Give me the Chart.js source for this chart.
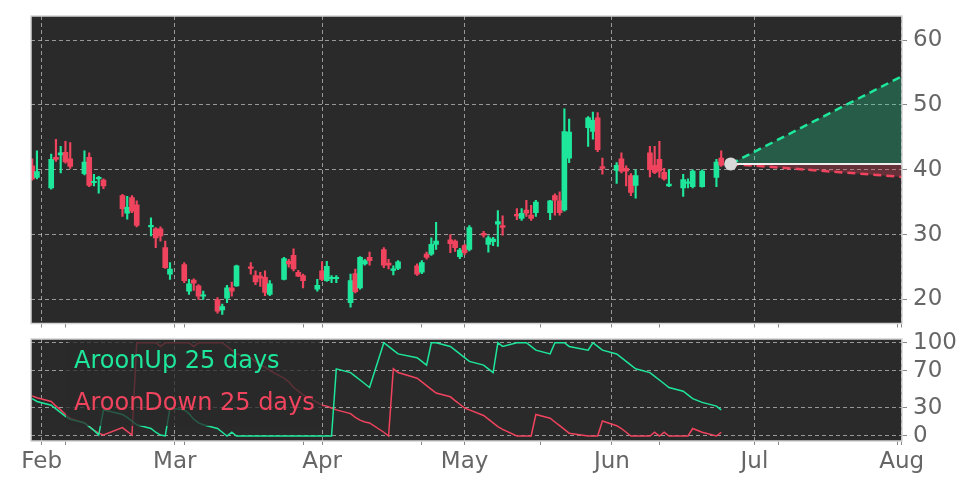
<!DOCTYPE html>
<html>
<head>
<meta charset="utf-8">
<script src="https://cdn.jsdelivr.net/npm/chart.js@4"></script>
<style>
  html, body { margin: 0; padding: 0; background: #fff; }
  #wrap { position: relative; width: 972px; height: 486px; }
  canvas { position: absolute; left: 0; }
  #priceChart { top: 0; }
  #aroonChart { top: 330px; }
</style>
</head>
<body>
<div id="wrap">
  <canvas id="priceChart" width="972" height="330"></canvas>
  <canvas id="aroonChart" width="972" height="156"></canvas>
</div>
<script>
// day positions on the axis (0 = 1 Feb), one per candle
const days = [-2, -1,
  2, 3, 4, 5, 6, 9, 10, 11, 12, 13, 17, 18, 19, 20, 23, 24, 25, 26, 27,
  30, 31, 32, 33, 34, 37, 38, 39, 40, 41, 44, 45, 46, 47, 48, 51, 52, 53, 54, 55,
  58, 59, 60, 61, 62, 65, 66, 67, 68, 69, 72, 73, 74, 75, 79, 80, 81, 82, 83,
  86, 87, 88, 89, 90, 93, 94, 95, 96, 97, 100, 101, 102, 103, 104, 107, 108, 109, 110, 111,
  115, 116, 117, 118, 121, 122, 123, 124, 125, 128, 129, 130, 131, 132, 135, 136, 137, 139, 142, 143];

const opens = [40.6, 38.8,
  37.2, 41.9, 42.3, 42.7, 41.7, 39.4, 41.9, 38.0, 38.6, 38.4, 36.0, 33.3, 35.7, 34.6, 31.2, 30.9, 30.9, 28.0, 23.9,
  25.4, 21.3, 23.0, 22.1, 20.5, 20.0, 18.4, 20.2, 21.8, 22.1, 25.0, 23.7, 23.6, 23.4, 20.8, 23.1, 25.9, 26.8, 24.2, 23.7,
  21.6, 24.4, 22.9, 23.2, 23.2, 19.5, 24.0, 21.8, 25.5, 26.5, 27.7, 25.6, 24.5, 24.8, 25.2, 24.2, 27.0, 27.0, 28.5,
  29.2, 29.0, 26.6, 28.3, 27.7, 30.2, 28.5, 28.9, 31.6, 31.4, 33.1, 32.5, 33.8, 33.0, 33.4, 33.4, 36.0, 35.2, 33.8, 41.8,
  46.5, 45.9, 48.0, 40.5, 39.9, 41.7, 40.2, 39.1, 37.6, 42.6, 40.7, 41.6, 39.6, 37.5, 37.2, 37.9, 37.4, 37.4, 38.8, 41.8];

const highs = [41.7, 42.9,
  42.4, 44.7, 43.6, 44.4, 44.2, 42.9, 42.6, 39.3, 39.0, 38.6, 36.2, 35.9, 36.0, 35.2, 32.6, 31.1, 31.2, 29.0, 25.7,
  25.7, 23.1, 23.2, 22.3, 21.3, 20.3, 19.3, 22.2, 22.7, 25.3, 25.7, 24.4, 24.2, 24.4, 22.9, 26.5, 26.2, 27.8, 24.5, 23.9,
  23.1, 25.8, 25.9, 23.7, 23.7, 23.9, 24.7, 26.6, 26.2, 27.3, 28.0, 26.2, 25.2, 26.0, 25.5, 26.0, 27.3, 29.5, 31.9,
  30.0, 29.2, 27.9, 28.5, 31.4, 30.5, 29.8, 29.6, 33.7, 32.9, 34.0, 34.0, 35.3, 34.5, 35.3, 35.3, 36.3, 36.6, 49.4, 47.8,
  48.2, 48.9, 48.8, 41.8, 41.1, 42.6, 40.6, 39.4, 40.0, 43.6, 43.6, 44.4, 40.2, 40.0, 39.3, 38.6, 40.0, 40.0, 41.6, 42.9];

const lows = [38.4, 38.6,
  37.0, 41.3, 39.5, 41.0, 40.2, 39.2, 37.4, 37.5, 36.4, 37.1, 32.8, 32.4, 33.4, 31.2, 29.8, 28.0, 29.0, 24.8, 23.1,
  22.6, 20.8, 21.4, 20.0, 20.0, 17.9, 17.7, 19.5, 20.5, 22.0, 23.9, 22.3, 22.0, 20.6, 20.6, 23.0, 25.0, 24.4, 23.5, 21.8,
  21.3, 22.9, 22.8, 22.6, 22.6, 18.8, 21.0, 21.6, 25.3, 25.3, 24.9, 24.7, 23.8, 24.6, 23.7, 24.0, 26.2, 26.8, 27.7,
  27.2, 27.4, 26.3, 26.9, 27.5, 29.6, 27.3, 28.3, 28.2, 29.9, 32.3, 32.2, 32.8, 32.2, 32.8, 32.3, 33.0, 33.0, 33.6, 41.1,
  43.6, 44.7, 42.8, 39.3, 37.9, 39.5, 37.5, 36.0, 35.6, 38.9, 39.4, 38.8, 38.4, 37.4, 35.9, 37.2, 37.2, 37.3, 37.4, 40.5];

const closes = [38.6, 39.7,
  41.6, 41.6, 42.6, 41.2, 40.5, 41.2, 37.6, 38.1, 38.8, 37.5, 34.0, 34.2, 33.6, 31.4, 31.4, 29.5, 29.8, 24.9, 24.7,
  22.9, 22.4, 22.5, 20.5, 20.7, 18.2, 18.9, 21.8, 21.3, 25.2, 24.8, 22.7, 23.3, 21.1, 22.4, 26.3, 25.5, 24.7, 23.6, 22.9,
  22.2, 23.1, 25.1, 23.4, 23.4, 22.9, 21.2, 26.5, 26.0, 26.0, 25.3, 25.3, 24.7, 25.8, 23.9, 25.7, 26.5, 28.5, 29.0,
  28.6, 28.0, 27.6, 27.2, 31.1, 29.9, 29.5, 29.3, 32.0, 31.1, 32.9, 33.3, 33.3, 32.5, 35.0, 35.2, 35.3, 33.4, 45.9, 45.8,
  48.0, 47.6, 43.1, 40.2, 40.7, 39.8, 39.8, 36.5, 39.1, 40.0, 39.6, 39.8, 38.6, 37.8, 38.5, 38.1, 39.8, 39.8, 41.2, 40.7];

const aroonUp = [40, 37,
  33, 29, 25, 21, 18, 14, 10, 6, 1, 28, 23, 20, 16, 12, 8, 4, 1, 0, 30,
  28, 24, 18, 14, 12, 8, 4, 0, 4, 0, 0, 0, 0, 0, 0, 0, 0, 0, 0, 0,
  0, 0, 0, 0, 72, 68, 64, 60, 56, 52, 100, 96, 92, 88, 84, 80, 76, 100, 100,
  96, 92, 88, 84, 80, 76, 72, 68, 100, 96, 100, 100, 100, 96, 92, 88, 100, 100, 100, 96,
  92, 100, 96, 92, 88, 84, 80, 76, 72, 68, 64, 60, 56, 52, 48, 44, 40, 36, 32, 28];

const aroonDown = [43, 41,
  37, 32, 28, 23, 19, 14, 10, 6, 3, 1, 9, 5, 1, 100, 100, 100, 96, 100, 100,
  100, 100, 96, 100, 100, 100, 100, 96, 92, 88, 84, 80, 76, 74, 70, 62, 58, 52, 48, 44,
  36, 33, 32, 30, 28, 24, 20, 17, 15, 14, 4, 0, 72, 68, 62, 58, 54, 50, 46,
  42, 38, 34, 30, 28, 22, 18, 14, 10, 7, 0, 0, 0, 0, 23, 19, 15, 11, 7, 3,
  0, 0, 0, 16, 11, 8, 4, 0, 0, 0, 4, 0, 4, 0, 0, 0, 8, 4, 0, 4];

// projection drawn from the last close to the right edge
const projDays = [145, 181];
const projMid = [40.9, 40.9];
const projHigh = [40.9, 54.4];
const projLow = [40.9, 38.9];

const monthTicks = [0, 28, 59, 89, 120, 150, 181];
const monthLabels = ['Feb', 'Mar', 'Apr', 'May', 'Jun', 'Jul', 'Aug'];
const minorTicks = [5, 30, 55, 80, 105, 130, 155, 180];
const priceTicks = [20, 30, 40, 50, 60];
const aroonTicks = [0, 30, 70, 100];
const legendLabels = ['AroonUp 25 days', 'AroonDown 25 days'];

const FONT = 'DejaVu Sans';
const BG = '#2a2a2a';
const UP = '#1ee69b';
const DOWN = '#f0435d';
const GRID = 'rgba(200,200,200,0.7)';
const TEXT = '#666';
const TICK = '#888';
const X_MIN = -2.25, X_MAX = 181.05;

const panelFrame = {
  id: 'panelFrame',
  beforeDraw(chart) {
    const { ctx, chartArea: a } = chart;
    ctx.save();
    ctx.fillStyle = BG;
    ctx.fillRect(a.left, a.top, a.right - a.left, a.bottom - a.top);
    ctx.restore();
  },
  afterDraw(chart) {
    const { ctx, chartArea: a } = chart;
    ctx.save();
    ctx.strokeStyle = '#d4d4d4';
    ctx.lineWidth = 1.5;
    ctx.strokeRect(a.left, a.top, a.right - a.left, a.bottom - a.top);
    ctx.restore();
  }
};

const aroonLegend = {
  id: 'aroonLegend',
  afterDatasetsDraw(chart) {
    const { ctx, chartArea: a } = chart;
    ctx.save();
    ctx.fillStyle = 'rgba(42,42,42,0.75)';
    ctx.beginPath();
    if (ctx.roundRect) ctx.roundRect(a.left + 35, a.top + 3, 256, 84, 4);
    else ctx.rect(a.left + 35, a.top + 3, 256, 84);
    ctx.fill();
    ctx.font = '24px "DejaVu Sans"';
    ctx.textBaseline = 'alphabetic';
    ctx.fillStyle = UP;
    ctx.fillText(legendLabels[0], a.left + 43, a.top + 28.5);
    ctx.fillStyle = DOWN;
    ctx.fillText(legendLabels[1], a.left + 43, a.top + 70.5);
    ctx.restore();
  }
};

function xScale(showLabels) {
  return {
    type: 'linear',
    min: X_MIN,
    max: X_MAX,
    offset: false,
    afterBuildTicks: s => { s.ticks = monthTicks.concat(minorTicks).map(v => ({ value: v })); },
    afterFit: s => {
      s.height = showLabels ? 45 : 6;
      s.paddingLeft = 0;
      s.paddingRight = 0;
    },
    grid: {
      offset: false,
      color: c => (c.tick && monthTicks.includes(c.tick.value)) ? GRID : 'rgba(0,0,0,0)',
      tickColor: TICK,
      tickLength: 4,
      lineWidth: 1
    },
    border: { display: false, dash: [4, 3] },
    ticks: {
      autoSkip: false,
      maxRotation: 0,
      padding: 3,
      color: TEXT,
      font: { family: FONT, size: 23 },
      callback: v => (showLabels && monthTicks.includes(v)) ? monthLabels[monthTicks.indexOf(v)] : ''
    }
  };
}

function yScale(min, max, tickList) {
  return {
    position: 'right',
    min: min,
    max: max,
    afterBuildTicks: s => { s.ticks = tickList.map(v => ({ value: v })); },
    afterFit: s => {
      s.width = 70;
      s.paddingTop = 0;
      s.paddingBottom = 0;
    },
    grid: { color: GRID, tickColor: TICK, tickLength: 5 },
    border: { display: false, dash: [4, 3] },
    ticks: { autoSkip: false, color: TEXT, font: { family: FONT, size: 23 }, padding: 6 }
  };
}

const candleColor = days.map((d, i) => closes[i] >= opens[i] ? UP : DOWN);

new Chart(document.getElementById('priceChart'), {
  type: 'bar',
  data: {
    datasets: [
      {
        label: 'wick',
        data: days.map((d, i) => ({ x: d, y: [lows[i], highs[i]] })),
        backgroundColor: candleColor,
        barThickness: 1.5,
        grouped: false,
        order: 4
      },
      {
        label: 'body',
        data: days.map((d, i) => ({ x: d, y: [opens[i], closes[i]] })),
        backgroundColor: candleColor,
        barThickness: 5,
        minBarLength: 1.5,
        grouped: false,
        order: 3
      },
      {
        type: 'line',
        label: 'last',
        data: projDays.map((d, i) => ({ x: d, y: projMid[i] })),
        borderColor: '#eeeeee',
        borderWidth: 2,
        pointRadius: 0,
        fill: false,
        order: 1
      },
      {
        type: 'line',
        label: 'up',
        data: projDays.map((d, i) => ({ x: d, y: projHigh[i] })),
        borderColor: UP,
        borderWidth: 2.5,
        borderDash: [8, 5],
        pointRadius: 0,
        fill: { target: 2, above: 'rgba(30,230,155,0.27)', below: 'rgba(30,230,155,0.27)' },
        order: 2
      },
      {
        type: 'line',
        label: 'down',
        data: projDays.map((d, i) => ({ x: d, y: projLow[i] })),
        borderColor: DOWN,
        borderWidth: 2.5,
        borderDash: [8, 5],
        pointRadius: 0,
        fill: { target: 2, above: 'rgba(240,67,93,0.3)', below: 'rgba(240,67,93,0.3)' },
        order: 2
      },
      {
        type: 'line',
        label: 'dot',
        data: [{ x: projDays[0], y: projMid[0] }],
        showLine: false,
        pointRadius: 6.5,
        pointBackgroundColor: '#d9d9d9',
        pointBorderWidth: 0,
        order: 0
      }
    ]
  },
  options: {
    responsive: false,
    animation: false,
    layout: { padding: { left: 31, top: 16, right: 0, bottom: 0 } },
    plugins: { legend: { display: false }, tooltip: { enabled: false } },
    scales: {
      x: xScale(false),
      y: yScale(16.3, 63.7, priceTicks)
    }
  },
  plugins: [panelFrame]
});

new Chart(document.getElementById('aroonChart'), {
  type: 'line',
  data: {
    datasets: [
      {
        label: legendLabels[0],
        data: days.map((d, i) => ({ x: d, y: aroonUp[i] })),
        borderColor: UP,
        borderWidth: 1.5,
        pointRadius: 0
      },
      {
        label: legendLabels[1],
        data: days.map((d, i) => ({ x: d, y: aroonDown[i] })),
        borderColor: DOWN,
        borderWidth: 1.5,
        pointRadius: 0
      }
    ]
  },
  options: {
    responsive: false,
    animation: false,
    layout: { padding: { left: 31, top: 9, right: 0, bottom: 0 } },
    plugins: { legend: { display: false }, tooltip: { enabled: false } },
    scales: {
      x: xScale(true),
      y: yScale(-5.4, 104, aroonTicks)
    }
  },
  plugins: [panelFrame, aroonLegend]
});
</script>
</body>
</html>
